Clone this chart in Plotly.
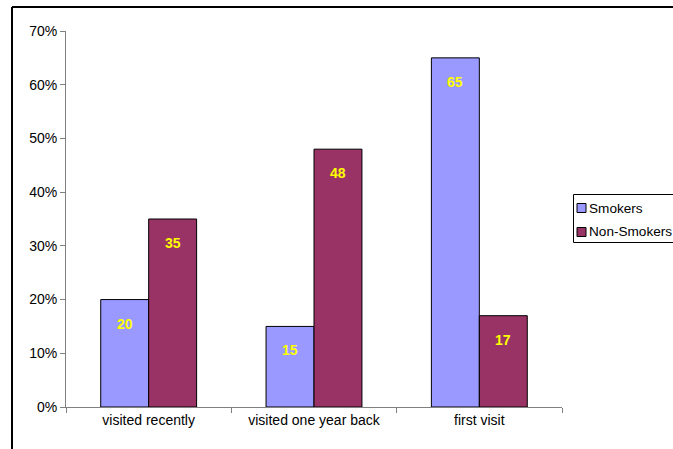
import plotly.graph_objects as go

categories = ["visited recently", "visited one year back", "first visit"]
smokers = [20, 15, 65]
non_smokers = [35, 48, 17]

series = [
    ("Smokers", smokers, "#9999FF", -24),
    ("Non-Smokers", non_smokers, "#993366", 24),
]

# plot-area geometry in pixels, used to place the frame and legend box
W, H = 673, 449
L, R, T, B = 66, 111, 31, 42
PW, PH = W - L - R, H - T - B


def px(x):
    return (x - L) / PW


def py(y):
    return (H - B - y) / PH


fig = go.Figure()
annotations = []
shapes = [
    # outer frame (left and top edges)
    dict(type="line", xref="paper", yref="paper",
         x0=px(12), x1=px(12), y0=py(452), y1=py(7),
         line=dict(color="#000000", width=2)),
    dict(type="line", xref="paper", yref="paper",
         x0=px(12), x1=px(680), y0=py(7), y1=py(7),
         line=dict(color="#000000", width=2)),
    # legend box
    dict(type="rect", xref="paper", yref="paper",
         x0=px(573.5), x1=px(690), y0=py(194.5), y1=py(242.5),
         line=dict(color="#000000", width=1), fillcolor="white"),
]

legend_rows = [208, 232]
for (name, vals, color, dx), row in zip(series, legend_rows):
    fig.add_trace(go.Bar(
        name=name,
        x=categories,
        y=[v / 100 for v in vals],
        marker=dict(color=color, line=dict(color="#000000", width=1)),
        showlegend=False,
    ))
    for cat, v in zip(categories, vals):
        annotations.append(dict(
            x=cat, y=v / 100, xref="x", yref="y",
            text=f"<b>{v}</b>", showarrow=False,
            xshift=dx, yshift=-14, yanchor="top",
            font=dict(family="Liberation Sans, Arial", size=14, color="#FFFF00"),
        ))
    # legend entry: swatch + label
    shapes.append(dict(
        type="rect", xref="paper", yref="paper",
        x0=px(577), x1=px(586), y0=py(row + 4.5), y1=py(row - 4.5),
        line=dict(color="#000000", width=1), fillcolor=color,
    ))
    annotations.append(dict(
        x=px(587), y=py(row), xref="paper", yref="paper",
        xanchor="left", yanchor="middle", showarrow=False,
        text=name,
        font=dict(family="Liberation Sans, Arial", size=13.6, color="#000000"),
    ))

font = dict(family="Liberation Sans, Arial", size=14, color="#000000")

fig.update_layout(
    width=W, height=H,
    margin=dict(l=L, r=R, t=T, b=B, autoexpand=False),
    paper_bgcolor="white", plot_bgcolor="white",
    barmode="group", bargap=0.42, bargroupgap=0,
    font=font,
    showlegend=False,
    xaxis=dict(
        showline=True, linecolor="#808080", linewidth=1,
        ticks="outside", ticklen=5, tickcolor="#808080",
        tickson="boundaries", showgrid=False, tickfont=font,
    ),
    yaxis=dict(
        range=[0, 0.7], dtick=0.1, tickformat=".0%",
        showline=True, linecolor="#808080", linewidth=1,
        ticks="outside", ticklen=5, tickcolor="#808080",
        showgrid=False, zeroline=False, tickfont=font,
    ),
    annotations=annotations,
    shapes=shapes,
)

fig.write_html("out.html")
